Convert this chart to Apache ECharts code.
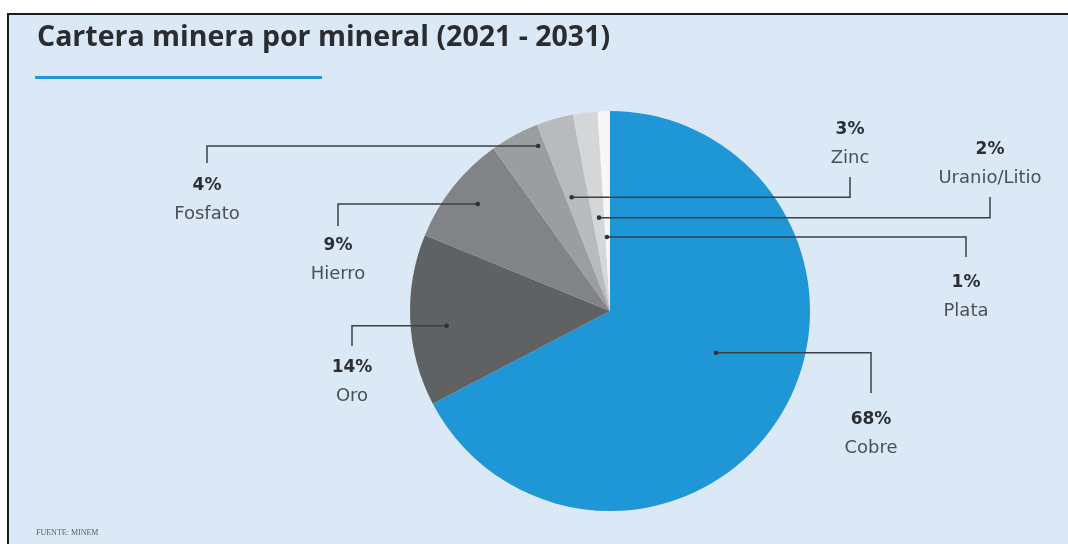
<!DOCTYPE html>
<html>
<head>
<meta charset="utf-8">
<script src="https://cdn.jsdelivr.net/npm/echarts@6/dist/echarts.min.js"></script>
<style>
html,body{margin:0;padding:0;background:#ffffff;}
#chart{width:1068px;height:544px;}
</style>
</head>
<body>
<div id="chart"></div>
<script>
// ---- data ----
const categories = ['Cobre', 'Oro', 'Hierro', 'Fosfato', 'Zinc', 'Uranio/Litio', 'Plata'];
const shares = [68, 14, 9, 4, 3, 2, 1];
const sliceColors = ['#1f97d6', '#606163', '#828386', '#9c9d9f', '#b9babc', '#d5d6d7', '#f7f7f7'];

// ---- label layout (positions only) ----
// lx: label / elbow x, lineEnd: y where the vertical leader stops, edge: label block edge,
// rf: radial fraction of anchor dot, af: angular fraction within slice
const labelPos = [
  {lx: 871, lineEnd: 393, edge: 406, up: false, rf: 0.57, af: 0.46},
  {lx: 352, lineEnd: 346, edge: 354, up: false, rf: 0.82, af: 0.45},
  {lx: 338, lineEnd: 226, edge: 232, up: false, rf: 0.85, af: 0.52},
  {lx: 207, lineEnd: 163, edge: 172, up: false, rf: 0.90, af: 0.85},
  {lx: 850, lineEnd: 177, edge: 172, up: true,  rf: 0.60, af: 0.26},
  {lx: 990, lineEnd: 197, edge: 192, up: true,  rf: 0.47, af: 0.56},
  {lx: 966, lineEnd: 257, edge: 269, up: false, rf: 0.37, af: 0.33}
];

const chart = echarts.init(document.getElementById('chart'), null, {renderer: 'canvas'});

function anchorOf(i) {
  const lay = chart.getModel().getSeriesByIndex(0).getData().getItemLayout(i);
  const p = labelPos[i];
  const a = lay.startAngle + p.af * (lay.endAngle - lay.startAngle);
  return [lay.cx + p.rf * lay.r * Math.cos(a), lay.cy + p.rf * lay.r * Math.sin(a)];
}

const option = {
  backgroundColor: '#ffffff',
  animation: false,
  title: {
    text: 'Cartera minera por mineral (2021 - 2031)',
    left: 32, top: 18,
    textStyle: {fontFamily: 'Open Sans', fontWeight: 'bold', fontSize: 28.5, color: '#2a2c2f'}
  },
  graphic: [
    {type: 'rect', z: -10, silent: true, shape: {x: 8, y: 14, width: 1100, height: 600},
     style: {fill: '#dbe9f7', stroke: '#1c1c1c', lineWidth: 2}},
    {type: 'rect', z: 10, silent: true, shape: {x: 35, y: 76, width: 287, height: 3},
     style: {fill: '#1e9ad6'}},
    {type: 'text', z: 10, silent: true, x: 36, y: 529,
     style: {text: 'FUENTE: MINEM', fill: '#5a5d62', font: '8px "Liberation Serif"'}}
  ],
  series: [{
    type: 'pie',
    center: [610, 311],
    radius: 200,
    startAngle: 90,
    clockwise: true,
    avoidLabelOverlap: false,
    data: categories.map((c, i) => ({name: c, value: shares[i], itemStyle: {color: sliceColors[i]}})),
    label: {
      show: true,
      formatter: p => '{p|' + shares[p.dataIndex] + '%}\n{n|' + p.name + '}',
      rich: {
        p: {fontFamily: 'DejaVu Sans', fontWeight: 'bold', fontSize: 17, color: '#2b2f34', lineHeight: 28, align: 'center'},
        n: {fontFamily: 'DejaVu Sans', fontSize: 18, color: '#4b5056', lineHeight: 28, align: 'center'}
      }
    },
    labelLine: {show: false},
    labelLayout: function (params) {
      const p = labelPos[params.dataIndex];
      return {
        x: p.lx,
        y: p.edge,
        align: 'center',
        verticalAlign: p.up ? 'bottom' : 'top'
      };
    }
  }]
};
chart.setOption(option);

// leader lines and anchor dots, drawn above the slices
const extra = [];
categories.forEach((c, i) => {
  const an = anchorOf(i);
  const p = labelPos[i];
  extra.push({type: 'polyline', id: 'line' + i, z: 100, silent: true,
              shape: {points: [an, [p.lx, an[1]], [p.lx, p.lineEnd]]},
              style: {stroke: '#3b4046', lineWidth: 1.5, fill: null}});
  extra.push({type: 'circle', id: 'dot' + i, z: 101, silent: true,
              shape: {cx: an[0], cy: an[1], r: 2.3}, style: {fill: '#2e3338'}});
});
chart.setOption({graphic: option.graphic.concat(extra)});
</script>
</body>
</html>
